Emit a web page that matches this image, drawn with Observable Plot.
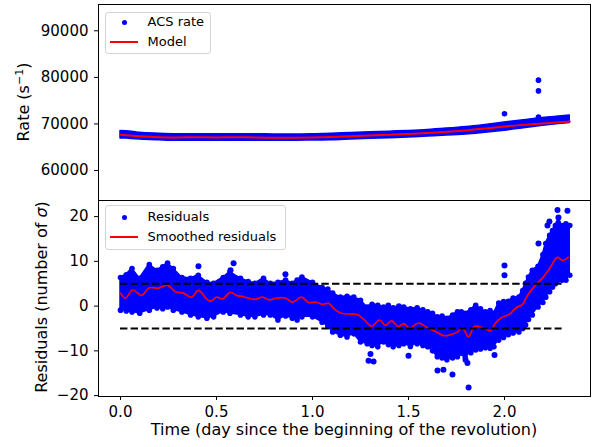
<!DOCTYPE html>
<html><head><meta charset="utf-8">
<script src="https://cdn.jsdelivr.net/npm/d3@7"></script>
<script src="https://cdn.jsdelivr.net/npm/@observablehq/plot@0.6"></script>
<style>
body{margin:0;background:#fff;font-family:"DejaVu Sans",sans-serif;}
#fig{position:relative;width:598px;height:447px;overflow:hidden;background:#fff;}
#fig svg{position:absolute;left:0;overflow:visible;}
.lab{position:absolute;font-size:16px;white-space:nowrap;color:#000;line-height:18px;}
.leg{position:absolute;box-sizing:border-box;border:1px solid #d4d4d4;border-radius:3px;background:rgba(255,255,255,0.8);}
.lt{position:absolute;font-size:13px;line-height:16px;white-space:nowrap;color:#000;}
.ld{position:absolute;width:5px;height:5px;border-radius:50%;background:#0000ff;}
.ll{position:absolute;width:28px;height:2px;background:#ff0000;}
</style></head>
<body>
<div id="fig"></div>
<script>
// ---- Top panel data (ACS rate, counts/s) ----
const rateTime = [0.0,0.03,0.06,0.1,0.2,0.3,0.4,0.5,0.6,0.7,0.8,0.9,1.0,1.1,1.2,1.3,1.4,1.5,1.6,1.7,1.8,1.9,2.0,2.1,2.2,2.3,2.34];
const rateLow  = [66900,66850,66750,66650,66500,66400,66400,66400,66400,66400,66400,66400,66450,66500,66650,66800,66950,67100,67300,67500,67750,68100,68550,69100,69600,70050,70200];
const rateHigh = [68500,68450,68350,68100,67900,67800,67800,67800,67800,67800,67750,67750,67800,67900,68050,68200,68350,68500,68700,69000,69350,69800,70300,70800,71300,71650,71800];
const rateOutTime = [2.0, 2.177, 2.177, 2.177];
const rateOutVal  = [72200, 79400, 77100, 71500];
const modelTime = [0.0,0.05,0.1,0.2,0.3,0.4,0.5,0.6,0.7,0.8,0.9,1.0,1.1,1.2,1.3,1.4,1.5,1.6,1.7,1.8,1.9,2.0,2.1,2.2,2.3,2.34];
const modelRate = [67700,67500,67350,67150,67100,67150,67100,67150,67100,67050,67050,67100,67200,67350,67500,67700,67850,68050,68300,68600,69000,69450,69800,70100,70400,70500];

// ---- Bottom panel data (residuals, number of sigma) ----
const resTime = [0.0,0.03,0.06,0.10,0.15,0.19,0.22,0.245,0.275,0.32,0.365,0.405,0.45,0.485,0.535,0.57,0.625,0.665,0.70,0.745,0.78,0.82,0.86,0.895,0.92,0.945,1.0,1.05,1.08,1.105,1.145,1.18,1.215,1.25,1.285,1.31,1.34,1.37,1.395,1.42,1.45,1.475,1.51,1.545,1.575,1.60,1.625,1.65,1.675,1.70,1.73,1.755,1.775,1.795,1.825,1.85,1.875,1.90,1.925,1.945,1.97,1.995,2.02,2.045,2.075,2.095,2.11,2.125,2.145,2.175,2.20,2.215,2.235,2.25,2.265,2.28,2.30,2.32,2.34];
const resLow  = [-0.9,-1.1,-1.3,-1.6,-0.9,-0.4,-0.6,-0.2,-0.9,-1.3,-2.0,-2.4,-2.7,-2.4,-1.3,-1.6,-2.0,-2.4,-2.4,-2.0,-2.0,-3.1,-2.2,-2.7,-3.1,-2.4,-2.4,-3.6,-4.5,-5.8,-6.5,-6.9,-6.2,-8.0,-8.4,-8.8,-9.1,-8.0,-8.6,-9.1,-8.8,-8.4,-9.0,-8.4,-8.8,-9.1,-10.0,-11.3,-11.6,-12.0,-11.6,-11.3,-10.5,-11.3,-10.4,-9.8,-9.6,-9.3,-9.4,-9.1,-7.6,-7.0,-6.4,-6.0,-5.8,-5.0,-4.2,-3.0,-2.0,-0.2,0.8,2.0,3.2,4.2,5.0,5.8,5.8,5.8,6.9];
const resHigh = [6.4,7.0,8.4,6.2,9.3,8.0,8.8,9.6,8.4,6.4,6.2,6.9,5.3,5.1,6.4,7.6,6.2,5.5,5.1,6.2,5.1,5.3,5.8,5.1,5.8,6.5,5.3,4.2,3.8,2.9,2.0,2.2,2.0,1.3,-0.2,0.4,0.2,-0.2,0.2,-0.4,0.0,-0.2,-0.6,-0.4,-0.8,-1.3,-1.6,-2.4,-2.2,-2.7,-2.0,-1.3,-1.3,-1.6,-0.8,0.2,-0.6,-1.3,-1.0,-1.6,0.7,1.0,1.1,1.8,2.0,3.5,5.1,6.5,8.0,8.9,11.5,14.0,15.8,16.9,18.0,18.7,18.0,18.4,18.0];
const resOutTime = [0.406,0.573,0.589,0.859,1.302,1.292,1.318,1.500,1.651,1.682,1.729,1.797,1.807,1.813,1.948,2.000,2.000,2.177,2.224,2.234,2.276,2.281,2.328];
const resOutVal  = [8.9,8.0,9.6,7.1,-10.7,-12.2,-12.4,-11.1,-14.4,-14.2,-15.3,-12.0,-12.7,-18.2,-10.9,9.1,6.9,14.0,18.0,18.9,21.5,19.8,21.3];
const smoothTime = [0.000,0.026,0.063,0.109,0.151,0.198,0.245,0.286,0.328,0.370,0.406,0.448,0.469,0.500,0.531,0.573,0.604,0.641,0.698,0.740,0.776,0.813,0.859,0.896,0.943,0.979,1.016,1.052,1.083,1.120,1.151,1.198,1.234,1.266,1.307,1.349,1.380,1.411,1.448,1.474,1.505,1.552,1.594,1.646,1.682,1.719,1.755,1.781,1.813,1.844,1.891,1.927,1.953,1.984,2.026,2.063,2.094,2.120,2.156,2.198,2.234,2.276,2.302,2.333];
const smoothVal  = [2.9,1.8,3.6,2.4,4.1,4.0,4.7,3.2,2.9,2.0,3.5,1.6,1.1,2.0,1.6,3.1,2.4,2.1,1.5,2.0,1.4,1.8,1.8,0.9,2.0,0.8,0.9,0.4,0.6,-0.9,-1.6,-1.8,-1.9,-2.9,-4.5,-3.1,-4.3,-3.3,-4.6,-3.9,-4.9,-3.8,-4.7,-5.8,-6.6,-6.4,-5.8,-4.9,-6.9,-4.5,-4.9,-5.5,-3.8,-2.6,-1.8,-0.3,0.4,2.4,4.4,6.3,8.3,10.9,10.2,10.9];
const sigmaLimits = [-5, 5];
const limitStart = 0.0, limitEnd = 2.30;

// ---- Axes ----
const xTicks = [0, 0.5, 1.0, 1.5, 2.0];
const rateTicks = [60000, 70000, 80000, 90000];
const resTicks = [-20, -10, 0, 10, 20];
const xDomain = [-0.1146, 2.448];
const rateDomain = [53560, 95650];
const resDomain = [-20.2, 23.6];

// ---- Tables ----
const rateBand = rateTime.map((t,i)=>({t, lo: rateLow[i], hi: rateHigh[i]}));
const rateOut = rateOutTime.map((t,i)=>({t, v: rateOutVal[i]}));
const model = modelTime.map((t,i)=>({t, v: modelRate[i]}));
const resBand = resTime.map((t,i)=>({t, lo: resLow[i], hi: resHigh[i]}));
const resOut = resOutTime.map((t,i)=>({t, v: resOutVal[i]}));
const smooth = smoothTime.map((t,i)=>({t, v: smoothVal[i]}));
const limits = sigmaLimits.map(y=>({y, x1: limitStart, x2: limitEnd}));

const BLUE = "#0000ff", RED = "#ff0000";
const common = {width: 598, marginLeft: 98, marginRight: 8,
  style: {fontFamily: "DejaVu Sans", fontSize: "15px", color: "#000", background: "transparent", overflow: "visible"}};

const topPlot = Plot.plot({
  ...common, height: 200, marginTop: 4, marginBottom: 0,
  x: {domain: xDomain, axis: null},
  y: {domain: rateDomain},
  marks: [
    Plot.areaY(rateBand, {x: "t", y1: "lo", y2: "hi", fill: BLUE, stroke: BLUE, strokeWidth: 1.5, strokeLinejoin: "round", curve: "monotone-x"}),
    Plot.dot(rateOut, {x: "t", y: "v", r: 2.8, fill: BLUE}),
    Plot.line(model, {x: "t", y: "v", stroke: RED, strokeWidth: 2, curve: "catmull-rom"}),
    Plot.axisY(rateTicks, {tickSize: 4, tickPadding: 6, tickFormat: d3.format("d"), label: null}),
    Plot.frame({stroke: "#000", strokeWidth: 1})
  ]
});

const botPlot = Plot.plot({
  ...common, height: 247, marginTop: 0, marginBottom: 51,
  x: {domain: xDomain},
  y: {domain: resDomain},
  marks: [
    Plot.areaY(resBand, {x: "t", y1: "lo", y2: "hi", fill: BLUE, stroke: BLUE, strokeWidth: 1.5, strokeLinejoin: "round"}),
    Plot.dot(resBand, {x: "t", y: "lo", r: 2.8, fill: BLUE}),
    Plot.dot(resBand, {x: "t", y: "hi", r: 2.8, fill: BLUE}),
    Plot.dot(resOut, {x: "t", y: "v", r: 3, fill: BLUE}),
    Plot.line(smooth, {x: "t", y: "v", stroke: RED, strokeWidth: 1.7, curve: "catmull-rom"}),
    Plot.ruleY(limits, {y: "y", x1: "x1", x2: "x2", stroke: "#000", strokeWidth: 2, strokeDasharray: "7.4,3.2"}),
    Plot.axisY(resTicks, {tickSize: 4, tickPadding: 6, tickFormat: d3.format("d"), label: null}),
    Plot.axisX(xTicks, {tickSize: 4, tickPadding: 6, tickFormat: d3.format(".1f"), label: null}),
    Plot.frame({stroke: "#000", strokeWidth: 1})
  ]
});

const fig = document.getElementById("fig");
topPlot.style.top = "0px";
botPlot.style.top = "200px";
fig.appendChild(topPlot);
fig.appendChild(botPlot);

function add(html){ fig.insertAdjacentHTML("beforeend", html); }
// axis labels
add('<div class="lab" style="left:344px;top:421px;transform:translateX(-50%)">Time (day since the beginning of the revolution)</div>');
add('<div class="lab" style="left:23.5px;top:102px;transform:translate(-50%,-50%) rotate(-90deg)">Rate (s<sup style="font-size:11px;vertical-align:6px;line-height:0">\u22121</sup>)</div>');
add('<div class="lab" style="left:41.5px;top:297px;transform:translate(-50%,-50%) rotate(-90deg)">Residuals (number of <i>\u03c3</i>)</div>');
// legends
add('<div class="leg" style="left:105px;top:12px;width:106px;height:42px"></div>');
add('<div class="ld" style="left:121.5px;top:19.5px"></div>');
add('<div class="lt" style="left:147.5px;top:14px">ACS rate</div>');
add('<div class="ll" style="left:110px;top:41px"></div>');
add('<div class="lt" style="left:147.5px;top:34px">Model</div>');
add('<div class="leg" style="left:105px;top:205px;width:181px;height:45px"></div>');
add('<div class="ld" style="left:121.5px;top:214.5px"></div>');
add('<div class="lt" style="left:147.5px;top:209px">Residuals</div>');
add('<div class="ll" style="left:110px;top:236px"></div>');
add('<div class="lt" style="left:147.5px;top:229px">Smoothed residuals</div>');
</script>
</body></html>
